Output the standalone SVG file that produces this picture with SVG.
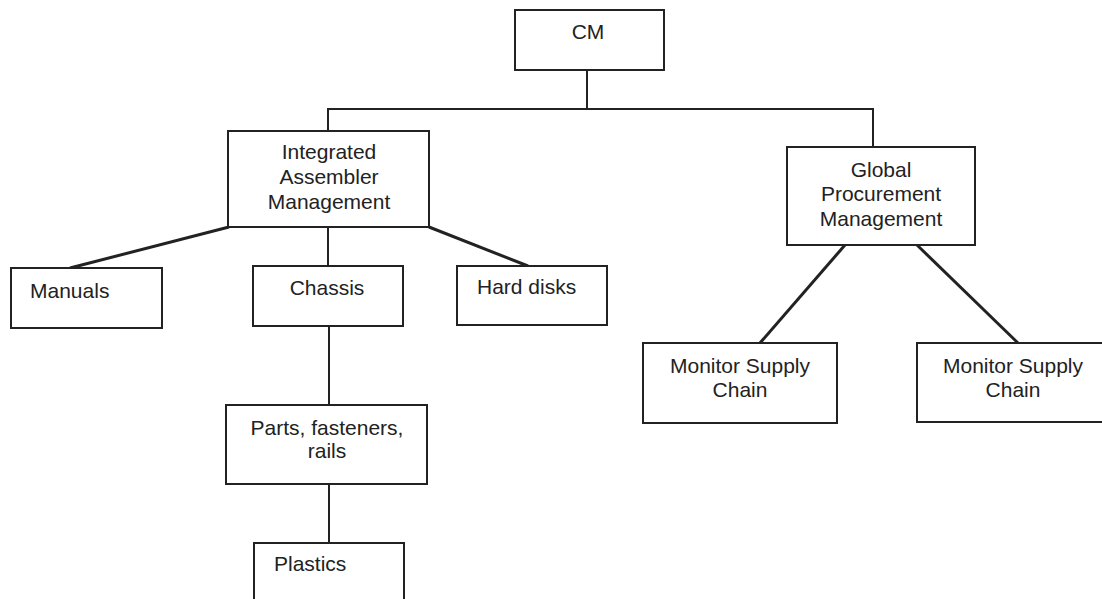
<svg xmlns="http://www.w3.org/2000/svg" width="1102" height="599" viewBox="0 0 1102 599">
<style>
.box{fill:#fff;stroke:#222;stroke-width:2}
.t{font-family:"Liberation Sans",Arial,sans-serif;font-size:21px;fill:#222}
.c{text-anchor:middle}
.ln{stroke:#222;stroke-width:2;fill:none}
.th{stroke:#222;stroke-width:3;fill:none}
</style>
<rect width="1102" height="599" fill="#fff"/>
<g id="connectors">
<line class="ln" x1="587" y1="70" x2="587" y2="109"/>
<polyline class="ln" points="328,131 328,109 873,109 873,147"/>
<line class="th" x1="229" y1="227" x2="70" y2="268"/>
<line class="ln" x1="328" y1="227" x2="328" y2="266"/>
<line class="th" x1="429" y1="227" x2="528" y2="266"/>
<line class="ln" x1="329" y1="326" x2="329" y2="405"/>
<line class="ln" x1="329" y1="484" x2="329" y2="543"/>
<line class="th" x1="845" y1="245" x2="760" y2="343"/>
<line class="th" x1="917" y1="245" x2="1018" y2="343"/>
</g>
<g id="cm">
<rect class="box" x="515" y="10" width="149" height="60"/>
<text class="t c" x="588" y="39">CM</text>
</g>
<g id="iam">
<rect class="box" x="228" y="131" width="201" height="96"/>
<text class="t c" x="329" y="159">Integrated</text>
<text class="t c" x="329" y="184">Assembler</text>
<text class="t c" x="329" y="209">Management</text>
</g>
<g id="gpm">
<rect class="box" x="787" y="147" width="188" height="98"/>
<text class="t c" x="881" y="177">Global</text>
<text class="t c" x="881" y="201">Procurement</text>
<text class="t c" x="881" y="226">Management</text>
</g>
<g id="manuals">
<rect class="box" x="11" y="268" width="151" height="60"/>
<text class="t" x="30" y="298">Manuals</text>
</g>
<g id="chassis">
<rect class="box" x="253" y="266" width="150" height="60"/>
<text class="t c" x="327" y="295">Chassis</text>
</g>
<g id="harddisks">
<rect class="box" x="457" y="266" width="150" height="59"/>
<text class="t" x="477" y="294">Hard disks</text>
</g>
<g id="parts">
<rect class="box" x="226" y="405" width="201" height="79"/>
<text class="t c" x="327" y="435">Parts, fasteners,</text>
<text class="t c" x="327" y="458">rails</text>
</g>
<g id="plastics">
<rect class="box" x="254" y="543" width="150" height="70"/>
<text class="t" x="274" y="571">Plastics</text>
</g>
<g id="msc1">
<rect class="box" x="643" y="343" width="194" height="80"/>
<text class="t c" x="740" y="373">Monitor Supply</text>
<text class="t c" x="740" y="397">Chain</text>
</g>
<g id="msc2">
<rect class="box" x="917" y="343" width="190" height="79"/>
<text class="t c" x="1013" y="373">Monitor Supply</text>
<text class="t c" x="1013" y="397">Chain</text>
</g>
</svg>
